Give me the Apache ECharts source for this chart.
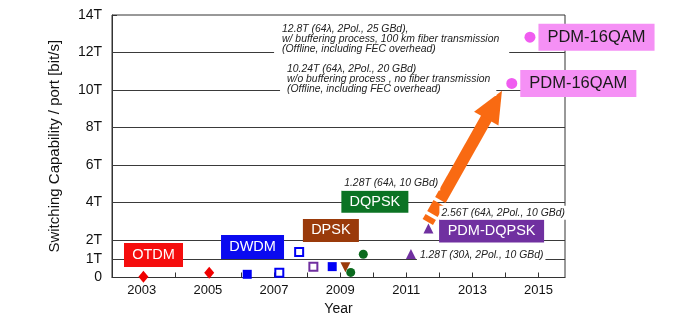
<!DOCTYPE html>
<html>
<head>
<meta charset="utf-8">
<script src="https://cdn.jsdelivr.net/npm/echarts@6/dist/echarts.min.js"></script>
<style>
html, body { margin: 0; padding: 0; background: #fff; }
#chart { width: 697px; height: 324px; }
</style>
</head>
<body>
<div id="chart"></div>
<script>
var yTicks = [0, 1, 2, 4, 6, 8, 10, 12, 14]
var gridValues = [1, 2, 4, 6, 8, 10, 12]
var xTicks = [2003, 2004, 2005, 2006, 2007, 2008, 2009, 2010, 2011, 2012, 2013, 2014, 2015]
var xLabels = [2003, 2005, 2007, 2009, 2011, 2013, 2015]

// [year, Tbit/s]
var otdmPoints = [[2003.05, 0.04], [2005.04, 0.26]]
var dwdmFilled = [[2006.19, 0.17], [2008.76, 0.58]]
var dwdmOpen = [[2007.16, 0.26], [2007.76, 1.36]]
var pdmOpen = [[2008.19, 0.58]]
var dpskPoints = [[2009.16, 0.55]]
var dqpskPoints = [[2009.32, 0.27], [2009.70, 1.24]]
var pdmDqpskPoints = [[2011.14, 1.25], [2011.67, 2.62]]
var qamPoints = [[2014.19, 10.35], [2014.74, 12.82]]
var qamNames = ['PDM-16QAM', 'PDM-16QAM']

var techNames = ['OTDM', 'DWDM', 'DPSK', 'DQPSK', 'PDM-DQPSK']
var techPos = [[2003.355, 1.2], [2006.35, 1.63], [2008.72, 2.51], [2010.05, 4.04], [2013.58, 2.48]]

var notes = [
    '12.8T (64λ, 2Pol., 25 GBd),\nw/ buffering process, 100 km fiber transmission\n(Offline, including FEC overhead)',
    '10.24T (64λ, 2Pol., 20 GBd)\nw/o buffering process , no fiber transmission\n(Offline, including FEC overhead)',
    '1.28T (64λ, 10 GBd)',
    '2.56T (64λ, 2Pol., 10 GBd)',
    '1.28T (30λ, 2Pol., 10 GBd)'
]
var notePos = [[2007.0, 12.69], [2007.18, 10.59], [2009.06, 5.02], [2012.0, 3.46], [2011.32, 1.2]]

// arrow from 2.56T to 10.24T
var arrowMain = [[2012.03, 4.13], [2013.656, 9.222]]
var arrowPieces = [[[2011.98, 3.97], [2011.79, 3.39]], [[2011.74, 3.23], [2011.65, 2.96]]]

var techStyle = [
    { bg: '#f50d0d', w: 59, h: 24 },
    { bg: '#0a0af0', w: 63, h: 24 },
    { bg: '#9a3a0a', w: 56, h: 23 },
    { bg: '#0b7324', w: 67, h: 22 },
    { bg: '#7030a0', w: 105, h: 23 }
]
var notePadding = [[2, 10, 2, 8], [2, 6, 2, 7], [2, 2, 2, 2], [2, 2, 2, 2], [2, 2, 2, 3]]

var font = 'Arial, "Liberation Sans", sans-serif'
var chart = echarts.init(document.getElementById('chart'))

function markerSeries(data, symbol, size, color, extra) {
    var s = {
        type: 'scatter',
        data: data,
        symbol: symbol,
        symbolSize: size,
        itemStyle: { color: color, opacity: 1 },
        z: 4,
        silent: true
    }
    for (var k in extra) s[k] = extra[k]
    return s
}

var techData = []
for (var i in techNames) {
    techData.push({
        value: techPos[i],
        label: {
            show: true,
            position: 'inside',
            formatter: techNames[i],
            color: '#fff',
            fontFamily: font,
            fontSize: 14.5,
            backgroundColor: techStyle[i].bg,
            width: techStyle[i].w,
            height: techStyle[i].h,
            lineHeight: techStyle[i].h,
            align: 'center',
            verticalAlign: 'middle',
            padding: 0
        }
    })
}

var noteData = []
for (var i in notes) {
    noteData.push({
        value: notePos[i],
        label: {
            show: true,
            position: 'right',
            distance: 0,
            formatter: notes[i],
            color: '#222',
            fontFamily: font,
            fontStyle: 'italic',
            fontSize: 10.4,
            lineHeight: 10,
            backgroundColor: '#fff',
            padding: notePadding[i]
        }
    })
}

var qamData = []
for (var i in qamPoints) {
    qamData.push({ value: qamPoints[i], name: qamNames[i] })
}

var pieceLines = []
for (var i in arrowPieces) {
    pieceLines.push([{ coord: arrowPieces[i][0] }, { coord: arrowPieces[i][1] }])
}

option = {
    animation: false,
    grid: {
        left: 112, right: 132, top: 15, bottom: 46.5,
        show: true, borderColor: '#333', borderWidth: 1
    },
    xAxis: {
        type: 'value',
        min: 2002.1,
        max: 2015.8,
        name: 'Year',
        nameLocation: 'middle',
        nameGap: 25,
        nameTextStyle: { fontFamily: font, fontSize: 14, color: '#111' },
        axisLine: { lineStyle: { color: '#333', width: 1 } },
        axisTick: { inside: true, length: 5, customValues: xTicks, lineStyle: { color: '#333' } },
        axisLabel: {
            customValues: xLabels, margin: 6, fontFamily: font, fontSize: 13, color: '#111',
            formatter: function (v) { return String(v) }
        },
        splitLine: { show: false }
    },
    yAxis: {
        type: 'value',
        min: 0,
        max: 14,
        name: 'Switching Capability / port [bit/s]',
        nameLocation: 'middle',
        nameGap: 50,
        nameTextStyle: { fontFamily: font, fontSize: 15, color: '#111' },
        axisLine: { show: true, lineStyle: { color: '#333', width: 1 } },
        axisTick: { show: true, inside: true, length: 5, customValues: yTicks, lineStyle: { color: '#333' } },
        axisLabel: {
            customValues: yTicks, margin: 10, fontFamily: font, fontSize: 14, color: '#111',
            formatter: function (v) { return v === 0 ? '0' : v + 'T' }
        },
        splitLine: { show: false }
    },
    series: [
        {
            type: 'scatter',
            data: [],
            z: 1,
            markLine: {
                silent: true,
                symbol: ['none', 'none'],
                label: { show: false },
                lineStyle: { color: '#3a3a3a', width: 1, type: 'solid' },
                data: gridValues.map(function (v) { return { yAxis: v } })
            }
        },
        markerSeries(otdmPoints, 'diamond', [10, 12], '#f00000'),
        markerSeries(dwdmFilled, 'rect', 9, '#0000f5'),
        markerSeries(dwdmOpen, 'rect', 8, '#fff', { itemStyle: { color: '#fff', borderColor: '#0000f5', borderWidth: 2, opacity: 1 } }),
        markerSeries(pdmOpen, 'rect', 8, '#fff', { itemStyle: { color: '#fff', borderColor: '#7030a0', borderWidth: 2, opacity: 1 } }),
        markerSeries(dpskPoints, 'triangle', 10, '#9a3a0a', { symbolRotate: 180 }),
        markerSeries(dqpskPoints, 'circle', 9, '#0b6a1e'),
        markerSeries(pdmDqpskPoints, 'triangle', 10, '#7030a0'),
        markerSeries(qamData, 'circle', 11, '#f05cf0', {
            clip: false,
            z: 7,
            label: {
                show: true,
                position: 'right',
                distance: 3,
                formatter: '{b}',
                color: '#1a1a1a',
                fontFamily: font,
                fontSize: 16.5,
                lineHeight: 17,
                backgroundColor: '#f590f5',
                padding: [5, 9]
            }
        }),
        {
            type: 'scatter',
            data: techData,
            symbolSize: 0.1,
            itemStyle: { color: 'transparent', opacity: 1 },
            clip: false,
            silent: true,
            z: 5
        },
        {
            type: 'scatter',
            data: noteData,
            symbolSize: 0.1,
            itemStyle: { color: 'transparent', opacity: 1 },
            clip: false,
            silent: true,
            z: 5
        },
        {
            type: 'scatter',
            data: [],
            z: 6,
            markLine: {
                silent: true,
                symbol: ['none', 'triangle'],
                symbolSize: [28, 32],
                label: { show: false },
                lineStyle: { color: '#f96a12', width: 12, type: 'solid', opacity: 1 },
                itemStyle: { color: '#f96a12' },
                data: [[{ coord: arrowMain[0] }, { coord: arrowMain[1] }]]
            }
        },
        {
            type: 'scatter',
            data: [],
            z: 6,
            markLine: {
                silent: true,
                symbol: ['none', 'none'],
                label: { show: false },
                lineStyle: { color: '#f96a12', width: 12, type: 'solid', opacity: 1 },
                data: pieceLines
            }
        }
    ]
}
chart.setOption(option)
</script>
</body>
</html>
